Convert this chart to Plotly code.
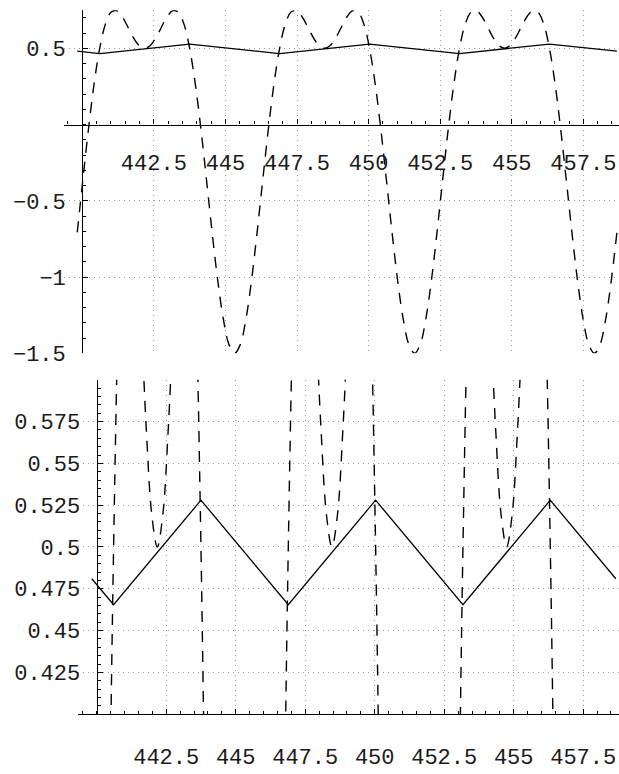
import plotly.graph_objects as go

# ---------------- data ----------------
x_vals = [
    439.823, 440.019, 440.216, 440.412, 440.608, 440.805, 441.001, 441.197, 441.394, 441.590,
    441.786, 441.983, 442.179, 442.376, 442.572, 442.768, 442.965, 443.161, 443.357, 443.554,
    443.750, 443.946, 444.143, 444.339, 444.535, 444.732, 444.928, 445.124, 445.321, 445.517,
    445.714, 445.910, 446.106, 446.303, 446.499, 446.695, 446.892, 447.088, 447.284, 447.481,
    447.677, 447.873, 448.070, 448.266, 448.462, 448.659, 448.855, 449.052, 449.248, 449.444,
    449.641, 449.837, 450.033, 450.230, 450.426, 450.622, 450.819, 451.015, 451.211, 451.408,
    451.604, 451.800, 451.997, 452.193, 452.389, 452.586, 452.782, 452.979, 453.175, 453.371,
    453.568, 453.764, 453.960, 454.157, 454.353, 454.549, 454.746, 454.942, 455.138, 455.335,
    455.531, 455.727, 455.924, 456.120, 456.316, 456.513, 456.709, 456.905, 457.102, 457.298,
    457.494, 457.691, 457.887, 458.084, 458.280, 458.476, 458.673,
]
dashed_vals = [
    -0.707, -0.364, -0.029, 0.267,
    0.5, 0.657, 0.736, 0.747, 0.707, 0.640, 0.570, 0.519,
    0.5,
    0.519, 0.570, 0.640, 0.707, 0.747, 0.736, 0.657, 0.5,
    0.267, -0.029, -0.364, -0.707, -1.023, -1.277, -1.443, -1.5,
    -1.443, -1.277, -1.023, -0.707, -0.364, -0.029, 0.267, 0.5,
    0.657, 0.736, 0.747, 0.707, 0.640, 0.570, 0.519, 0.5,
    0.519, 0.570, 0.640, 0.707, 0.747, 0.736, 0.657, 0.5,
    0.267, -0.029, -0.364, -0.707, -1.023, -1.277, -1.443, -1.5,
    -1.443, -1.277, -1.023, -0.707, -0.364, -0.029, 0.267, 0.5,
    0.657, 0.736, 0.747, 0.707, 0.640, 0.570, 0.519, 0.5,
    0.519, 0.570, 0.640, 0.707, 0.747, 0.736, 0.657, 0.5,
    0.267, -0.029, -0.364, -0.707, -1.023, -1.277, -1.443, -1.5,
    -1.443, -1.277, -1.023, -0.707,
]
solid_x = [439.823, 440.608, 443.750, 446.892, 450.033, 453.175, 456.316, 458.673]
solid_y = [0.481, 0.4655, 0.528, 0.4655, 0.528, 0.4655, 0.528, 0.481]

x_tickvals = [442.5, 445, 447.5, 450, 452.5, 455, 457.5]
x_ticktext = ["442.5", "445", "447.5", "450", "452.5", "455", "457.5"]
top_y_tickvals = [-1.5, -1, -0.5, 0.5]
top_y_ticktext = ["\u22121.5", "\u22121", "\u22120.5", "0.5"]
bot_y_tickvals = [0.425, 0.45, 0.475, 0.5, 0.525, 0.55, 0.575]
bot_y_ticktext = ["0.425", "0.45", "0.475", "0.5", "0.525", "0.55", "0.575"]

# ---------------- layout geometry ----------------
W, H = 619, 774
top_xr = [439.361, 458.746]
top_yr = [-1.5, 0.75]
top_xd = [64 / W, 1.0]
top_yd = [(H - 360.3) / H, (H - 10.4) / H]
bot_xr = [439.338, 458.788]
bot_yr = [0.4, 0.6]
bot_xd = [78.3 / W, 1.0]
bot_yd = [(H - 728.3) / H, (H - 387.3) / H]

def frac(v, r, d):
    return d[0] + (v - r[0]) / (r[1] - r[0]) * (d[1] - d[0])

origin_x = 440.0
top_xpos = frac(0.0, top_yr, top_yd)        # x axis crosses at y = 0
top_ypos = frac(origin_x, top_xr, top_xd)   # y axis at x = 440
bot_ypos = frac(origin_x, bot_xr, bot_xd)

FONT = dict(family="Liberation Mono, Courier New, monospace", size=22, color="#1a1a1a")
GRID = dict(showgrid=True, gridcolor="#9a9a9a", gridwidth=1, griddash="1px,4px")
AX = dict(showline=True, linecolor="black", linewidth=1.2, zeroline=False,
          ticks="inside", ticklen=5, tickwidth=1, tickcolor="black",
          tickfont=FONT, tickmode="array")

DASH = dict(color="black", width=1.4, dash="11px,9px", shape="spline", simplify=False)
SOLID = dict(color="black", width=1.3, simplify=False)

fig = go.Figure()
for xa, ya in (("x", "y"), ("x2", "y2")):
    fig.add_trace(go.Scatter(x=x_vals, y=dashed_vals, mode="lines", line=DASH,
                             xaxis=xa, yaxis=ya, showlegend=False, hoverinfo="skip"))
    fig.add_trace(go.Scatter(x=solid_x, y=solid_y, mode="lines", line=SOLID,
                             xaxis=xa, yaxis=ya, showlegend=False, hoverinfo="skip"))

fig.update_layout(
    width=W, height=H, margin=dict(l=0, r=0, t=0, b=0),
    paper_bgcolor="white", plot_bgcolor="white", showlegend=False,
    xaxis=dict(domain=top_xd, range=top_xr, anchor="free", position=top_xpos,
               tickvals=x_tickvals, ticktext=x_ticktext, ticklabelstandoff=18,
               minor=dict(dtick=0.5, tick0=440, ticks="inside", ticklen=3, tickcolor="black", showgrid=False),
               **GRID, **AX),
    yaxis=dict(domain=top_yd, range=top_yr, anchor="free", position=top_ypos,
               tickvals=top_y_tickvals, ticktext=top_y_ticktext, ticklabelstandoff=12,
               minor=dict(dtick=0.1, tick0=0, ticks="inside", ticklen=3, tickcolor="black", showgrid=False),
               **GRID, **AX),
    xaxis2=dict(domain=bot_xd, range=bot_xr, anchor="y2",
                tickvals=x_tickvals, ticktext=x_ticktext, ticklabelstandoff=22,
                minor=dict(dtick=0.5, tick0=440, ticks="inside", ticklen=3, tickcolor="black", showgrid=False),
                **GRID, **AX),
    yaxis2=dict(domain=bot_yd, range=bot_yr, anchor="free", position=bot_ypos,
                tickvals=bot_y_tickvals, ticktext=bot_y_ticktext, ticklabelstandoff=12,
                minor=dict(dtick=0.005, tick0=0.4, ticks="inside", ticklen=3, tickcolor="black", showgrid=False),
                **GRID, **AX),
)

fig.write_html("out.html")
